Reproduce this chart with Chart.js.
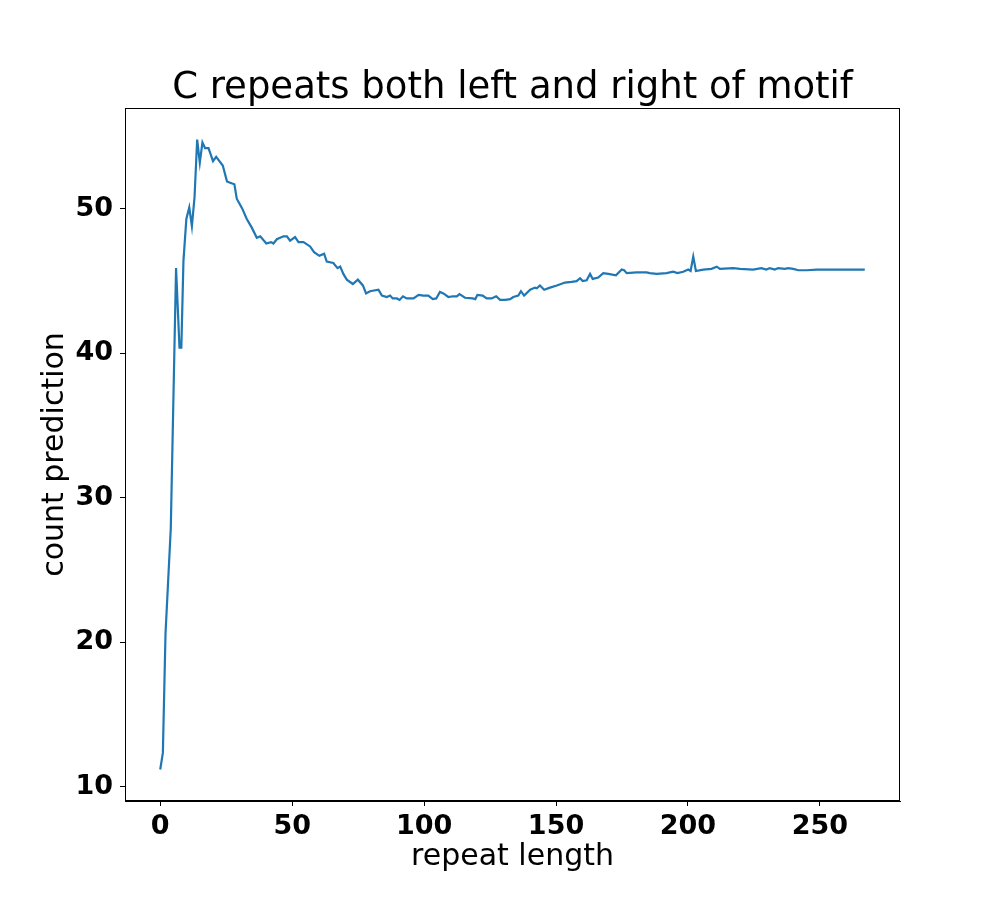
<!DOCTYPE html>
<html>
<head>
<meta charset="utf-8">
<script src="https://cdn.jsdelivr.net/npm/chart.js@4.4.1/dist/chart.umd.min.js"></script>
<style>
  body { margin: 0; background: #fff; }
  #chart { display: block; }
</style>
</head>
<body>
<canvas id="chart" width="1000" height="900"></canvas>
<script>
// values
const repeatLength = [
  0, 1, 2, 4, 6, 7.3, 8, 8.8, 9.9, 11, 12, 13, 14, 15, 16, 17, 18.3, 20, 21.2, 23.7,
  25.3, 26.5, 28.1, 29, 31, 32.8, 34.7, 36.6, 37.9, 40.2, 42, 42.9, 44.2, 46.7, 48, 49.2,
  51.1, 52.4, 54.3, 56.8, 58.3, 60.3, 62.1, 63.1, 65.6, 67.2, 68.2, 69.4, 70.7, 73, 74.9,
  76.8, 78, 79.5, 82.7, 84, 85.9, 87.1, 88.1, 89.7, 90.7, 92, 93.4, 96, 97.9, 99.7, 101.6,
  103.3, 104.6, 106, 107.3, 109.2, 110.9, 112.4, 113.4, 115.5, 118.4, 119.4, 120.2, 122.2,
  123.7, 125.6, 127.3, 128.8, 130.7, 132.6, 133.8, 135.7, 136.7, 137.9, 140.2, 142, 142.7,
  143.9, 145.5, 147.7, 150.3, 153.4, 155.9, 157.8, 159.1, 160.1, 161.6, 162.9, 163.9, 166,
  167.9, 169.8, 172.7, 174.9, 175.8, 176.8, 180.5, 184.3, 185.5, 188.1, 191.9, 194.4, 196,
  198.2, 200.1, 201, 202, 203, 205.8, 208.9, 210.9, 212.1, 217.2, 219.7, 224.7, 227.8,
  229.7, 231, 232.9, 234.2, 236.7, 238, 239.9, 241.8, 245, 248.8, 257.6, 267
];
const countPrediction = [
  11.2, 12.35, 20.6, 27.9, 45.9, 40.4, 40.4, 46.4, 49.3, 50.1, 48.8, 50.8, 54.8, 53.2, 54.6, 54.2, 54.2, 53.3, 53.6, 53.0,
  51.9, 51.8, 51.7, 50.7, 50.05, 49.3, 48.7, 48.0, 48.1, 47.6, 47.7, 47.6, 47.9, 48.1, 48.1, 47.8,
  48.05, 47.7, 47.7, 47.4, 47.0, 46.75, 46.9, 46.35, 46.25, 45.9, 46.0, 45.5, 45.1, 44.8, 45.1,
  44.7, 44.15, 44.3, 44.4, 44.0, 43.9, 44.0, 43.8, 43.8, 43.7, 43.95, 43.8, 43.8, 44.05, 44.0, 44.0,
  43.75, 43.8, 44.25, 44.15, 43.9, 43.95, 43.95, 44.1, 43.85, 43.8, 43.75, 44.05, 44.0,
  43.8, 43.8, 43.95, 43.7, 43.7, 43.75, 43.9, 44.0, 44.3, 44.0, 44.4, 44.55, 44.5,
  44.7, 44.4, 44.55, 44.7, 44.9, 44.95, 45.0, 45.2, 45.0, 45.05, 45.5, 45.15, 45.25,
  45.55, 45.5, 45.4, 45.8, 45.75, 45.55, 45.6, 45.6, 45.55, 45.5, 45.55, 45.65, 45.55,
  45.65, 45.8, 45.7, 46.7, 45.7, 45.8, 45.85, 46.0, 45.85, 45.9, 45.85, 45.8, 45.9,
  45.8, 45.9, 45.8, 45.9, 45.85, 45.9, 45.85, 45.75, 45.75, 45.8, 45.8, 45.8
];
const xTicks = [0, 50, 100, 150, 200, 250];
const yTicks = [10, 20, 30, 40, 50];

const points = repeatLength.map((x, i) => ({ x: x, y: countPrediction[i] }));

const FONT = "'DejaVu Sans', sans-serif";

// white background + full box round the plot, like matplotlib
const framePlugin = {
  id: 'frame',
  beforeDraw(chart) {
    const ctx = chart.ctx;
    ctx.save();
    ctx.fillStyle = '#fff';
    ctx.fillRect(0, 0, chart.width, chart.height);
    ctx.restore();
  },
  afterDraw(chart) {
    const a = chart.chartArea;
    const ctx = chart.ctx;
    ctx.save();
    ctx.strokeStyle = '#000';
    ctx.lineWidth = 1;
    ctx.strokeRect(a.left + 0.5, a.top + 0.5, a.right - a.left - 1, a.bottom - a.top - 1);
    ctx.restore();
  }
};

new Chart(document.getElementById('chart'), {
  type: 'line',
  data: {
    datasets: [{
      data: points,
      borderColor: '#1f77b4',
      borderWidth: 2.2,
      pointRadius: 0,
      tension: 0,
      fill: false
    }]
  },
  options: {
    responsive: false,
    animation: false,
    layout: { padding: { left: 0, right: 100, top: 0, bottom: 0 } },
    plugins: {
      legend: { display: false },
      tooltip: { enabled: false },
      title: {
        display: true,
        text: 'C repeats both left and right of motif',
        fullSize: false,
        color: '#000',
        font: { family: FONT, size: 37, weight: 'normal', lineHeight: 1 },
        padding: { top: 70, bottom: 1 }
      }
    },
    scales: {
      x: {
        type: 'linear',
        min: -13.35,
        max: 280.35,
        afterFit(scale) { scale.height = 99; },
        afterBuildTicks(scale) { scale.ticks = xTicks.map(v => ({ value: v })); },
        grid: { drawOnChartArea: false, drawTicks: true, tickLength: 5, tickColor: '#000' },
        border: { display: true, color: '#000', width: 1 },
        ticks: {
          color: '#000',
          padding: 5,
          maxRotation: 0,
          autoSkip: false,
          font: { family: FONT, size: 27, weight: 'bold' }
        },
        title: {
          display: true,
          text: 'repeat length',
          color: '#000',
          font: { family: FONT, size: 30, weight: 'normal', lineHeight: 1.2 },
          padding: { top: 0, bottom: 25 }
        }
      },
      y: {
        type: 'linear',
        min: 9.02,
        max: 56.98,
        afterFit(scale) { scale.width = 125; },
        afterBuildTicks(scale) { scale.ticks = yTicks.map(v => ({ value: v })); },
        grid: { drawOnChartArea: false, drawTicks: true, tickLength: 5, tickColor: '#000' },
        border: { display: true, color: '#000', width: 1 },
        ticks: {
          color: '#000',
          padding: 7,
          autoSkip: false,
          font: { family: FONT, size: 27, weight: 'bold' }
        },
        title: {
          display: true,
          text: 'count prediction',
          color: '#000',
          font: { family: FONT, size: 30, weight: 'normal', lineHeight: 1.2 },
          padding: { top: 37, bottom: 0 }
        }
      }
    }
  },
  plugins: [framePlugin]
});
</script>
</body>
</html>
